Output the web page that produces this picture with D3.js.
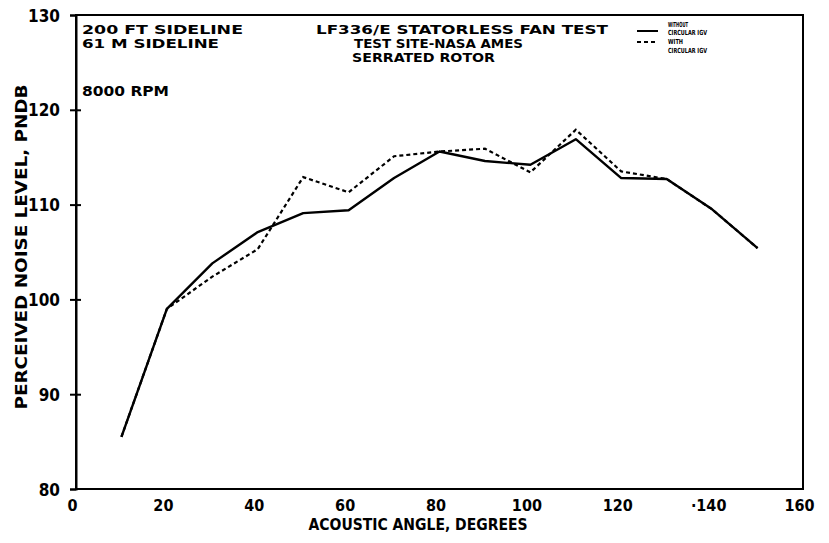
<!DOCTYPE html>
<html>
<head>
<meta charset="utf-8">
<script src="https://cdn.jsdelivr.net/npm/d3@7/dist/d3.min.js"></script>
<style>
  html, body { margin: 0; padding: 0; background: #fff; }
  svg text { font-family: "DejaVu Sans Condensed", "DejaVu Sans", sans-serif; font-weight: bold; fill: #000; }
</style>
</head>
<body>
<svg id="chart" width="829" height="543"></svg>
<script>
// Acoustic angle (degrees) at which perceived noise level was measured
const angles = [10, 20, 30, 40, 50, 60, 70, 80, 90, 100, 110, 120, 130, 140, 150];
// Perceived noise level, PNdB
const withoutIGV = [85.5, 99.0, 103.8, 107.1, 109.1, 109.4, 112.8, 115.6, 114.6, 114.2, 116.9, 112.8, 112.7, 109.5, 105.4];
const withIGV    = [85.5, 99.0, 102.4, 105.3, 112.9, 111.3, 115.1, 115.6, 115.9, 113.4, 117.9, 113.5, 112.7, 109.5, 105.4];

const xTicks = [0, 20, 40, 60, 80, 100, 120, 140, 160];
const xTickLabels = ["0", "20", "40", "60", "80", "100", "120", "\u00b7140", "160"];
const yTicks = [80, 90, 100, 110, 120, 130];

const svg = d3.select("#chart");

const x = d3.scaleLinear().domain([0, 160]).range([76, 803]);
const y = d3.scaleLinear().domain([80, 130]).range([489, 15]);

// Frame
svg.append("rect")
  .attr("x", x(0)).attr("y", y(130))
  .attr("width", x(160) - x(0)).attr("height", y(80) - y(130))
  .attr("fill", "none").attr("stroke", "#000").attr("stroke-width", 2);

// Y axis: ticks cross the axis line
const yAxis = svg.append("g")
  .attr("transform", `translate(${x(0)},0)`)
  .call(d3.axisLeft(y).tickValues(yTicks).tickSize(6).tickPadding(10).tickFormat(d3.format("d")));
yAxis.select(".domain").attr("stroke-width", 2);
yAxis.selectAll(".tick line").attr("stroke-width", 2);
yAxis.selectAll(".tick text").style("font-size", "17px").attr("dy", "0.36em");

svg.append("g")
  .attr("transform", `translate(${x(0)},0)`)
  .call(d3.axisRight(y).tickValues(yTicks.filter(v => v > 80 && v < 130)).tickSize(5).tickFormat(""))
  .call(g => g.select(".domain").remove())
  .selectAll(".tick line").attr("stroke-width", 2);

// X axis labels
const xAxis = svg.append("g")
  .attr("transform", `translate(0,${y(80)})`)
  .call(d3.axisBottom(x).tickValues(xTicks).tickSize(0).tickPadding(11)
    .tickFormat((d, i) => xTickLabels[i]));
xAxis.select(".domain").remove();
xAxis.selectAll(".tick text").style("font-size", "16px").attr("dx", "-4");

// Axis titles
svg.append("text")
  .attr("x", 418).attr("y", 530)
  .attr("text-anchor", "middle")
  .style("font-size", "15px")
  .attr("textLength", 219).attr("lengthAdjust", "spacingAndGlyphs")
  .text("ACOUSTIC ANGLE, DEGREES");

svg.append("text")
  .attr("transform", "translate(27,247) rotate(-90)")
  .attr("text-anchor", "middle")
  .style("font-size", "16px")
  .attr("textLength", 325).attr("lengthAdjust", "spacingAndGlyphs")
  .text("PERCEIVED NOISE LEVEL, PNDB");

// Annotation text
const note = (t, xx, yy, len, size) => svg.append("text")
  .attr("x", xx).attr("y", yy)
  .style("font-size", size + "px")
  .attr("textLength", len).attr("lengthAdjust", "spacingAndGlyphs")
  .text(t);

note("200 FT SIDELINE", 82, 34, 161, 12);
note("61 M SIDELINE", 82, 48, 137, 12);
note("8000 RPM", 82, 96, 87, 14);
note("LF336/E STATORLESS FAN TEST", 316, 34, 292, 12);
note("TEST SITE-NASA AMES", 354, 48, 169, 12);
note("SERRATED ROTOR", 352, 62, 143, 12);

// Legend
svg.append("line").attr("x1", 637).attr("x2", 658).attr("y1", 31).attr("y2", 31)
  .attr("stroke", "#000").attr("stroke-width", 2);
svg.append("line").attr("x1", 637).attr("x2", 658).attr("y1", 42).attr("y2", 42)
  .attr("stroke", "#000").attr("stroke-width", 2).attr("stroke-dasharray", "4,3");
note("WITHOUT", 668, 27, 20, 7);
note("CIRCULAR IGV", 668, 35, 39, 7);
note("WITH", 668, 44, 15, 7);
note("CIRCULAR IGV", 668, 53, 39, 7);

// Curves
const line = d3.line().x((d, i) => x(angles[i])).y(d => y(d));

svg.append("path").datum(withIGV)
  .attr("d", line)
  .attr("fill", "none").attr("stroke", "#000").attr("stroke-width", 2.2)
  .attr("stroke-dasharray", "4,3");

svg.append("path").datum(withoutIGV)
  .attr("d", line)
  .attr("fill", "none").attr("stroke", "#000").attr("stroke-width", 2.4)
  .attr("stroke-linejoin", "round");
</script>
</body>
</html>
